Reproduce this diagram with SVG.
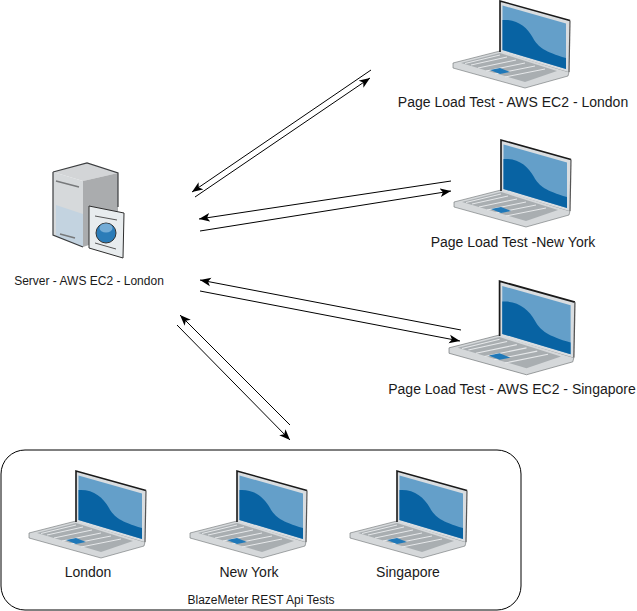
<svg xmlns="http://www.w3.org/2000/svg" width="637" height="611" viewBox="0 0 637 611">
<style>
text{font-family:"Liberation Sans",Arial,sans-serif;fill:#1a1a1a;text-anchor:middle}
.l{font-size:14px}.s{font-size:12px}
.c{fill:none;stroke:#000;stroke-width:1;marker-end:url(#a)}
</style>
<defs>
<marker id="a" markerUnits="userSpaceOnUse" markerWidth="12" markerHeight="10" refX="10" refY="4" orient="auto" viewBox="0 0 11 8"><path d="M0 0L10 4L0 8L2.500 4Z" fill="#000"/></marker>
<symbol id="laptop" viewBox="0 0 118 90" overflow="visible">
<path d="M0 63L47 51L116 72L115 76L72 88L0 68Z" fill="#d5d8da" stroke="#6a6e70" stroke-width=".6"/>
<path d="M8 63L47 53L104 71L72 82Z" fill="#a9aeb1"/>
<path d="M12 63.500L47 55M18 65L54 57M25 68L63 60M33 71L72 63M42 74L82 66M52 77L92 69" stroke="#e6e8ea" stroke-width="1" fill="none"/>
<path d="M37 70L47 68L57 72L47 74Z" fill="#1f78b8"/>
<path d="M47 52L47 1L117 20.500L116 72Z" fill="#d9dde0"/>
<path d="M47 52L47 1L117 20.500" fill="none" stroke="#1a1a1a" stroke-width="1.600"/>
<path d="M117 20.500L116 72" fill="none" stroke="#555" stroke-width="1.200"/>
<path d="M49.500 5.500L113 23.500L113 69L49.500 50Z" fill="#649fc9"/>
<path d="M49.500 20C64 19 74 27 80 38C85 47 92 52 113 58L113 69L49.500 50Z" fill="#0863a3"/>
</symbol>
</defs>
<g id="connectors">
<path class="c" d="M371 70L192 192"/>
<path class="c" d="M195 197L370 78"/>
<path class="c" d="M451 181L199 219"/>
<path class="c" d="M200 231L451 191"/>
<path class="c" d="M461 330L200 280"/>
<path class="c" d="M200 291L460 341"/>
<path class="c" d="M290 425L180 315"/>
<path class="c" d="M177 325L290 440"/>
</g>
<g id="server">
<path d="M53 172L87 163L118 173L83 181Z" fill="#d3d5d7"/>
<path d="M53 172L83 181L83 247L53 235Z" fill="#d6d9db"/>
<path d="M56 205L83 214L83 247L56 236Z" fill="#c3d3e0"/>
<path d="M83 181L118 173L118 235L83 247Z" fill="#aaacae"/>
<path d="M53 172L53 235L83 247M53 172L87 163L118 173L118 207" fill="none" stroke="#3b3d3f" stroke-width="1.200"/>
<path d="M56 181L79 187M60 234L75 238" stroke="#77797b" stroke-width="1.500" fill="none"/>
<path d="M89 206L124 213L123 258L89 248Z" fill="#e8ecee" stroke="#2e2e2e" stroke-width="1"/>
<path d="M95 216L117 220M95 243L116 249" stroke="#555" stroke-width="1" fill="none"/>
<circle cx="106" cy="233" r="10" fill="#2b7cb8" stroke="#333" stroke-width="1"/>
<ellipse cx="106" cy="228" rx="6.500" ry="4.500" fill="#74acd6"/>
<text class="s" x="89" y="285">Server - AWS EC2 - London</text>
</g>
<g id="laptop-london">
<use href="#laptop" x="453" y="0" width="118" height="90"/>
<text class="l" x="513" y="107">Page Load Test - AWS EC2 - London</text>
</g>
<g id="laptop-newyork">
<use href="#laptop" x="454" y="139" width="118" height="90"/>
<text class="l" x="513" y="247">Page Load Test -New York</text>
</g>
<g id="laptop-singapore">
<use href="#laptop" x="449" y="280" width="127" height="97"/>
<text class="l" x="512" y="394">Page Load Test - AWS EC2 - Singapore</text>
</g>
<g id="blazemeter">
<rect x="1" y="450" width="520" height="160" rx="24" ry="24" fill="none" stroke="#000"/>
<text class="s" x="261" y="604">BlazeMeter REST Api Tests</text>
</g>
<g id="bm-london">
<use href="#laptop" x="29" y="470" width="118" height="90"/>
<text class="l" x="88" y="577">London</text>
</g>
<g id="bm-newyork">
<use href="#laptop" x="190" y="470" width="118" height="90"/>
<text class="l" x="249" y="577">New York</text>
</g>
<g id="bm-singapore">
<use href="#laptop" x="350" y="470" width="118" height="90"/>
<text class="l" x="408" y="577">Singapore</text>
</g>
</svg>
